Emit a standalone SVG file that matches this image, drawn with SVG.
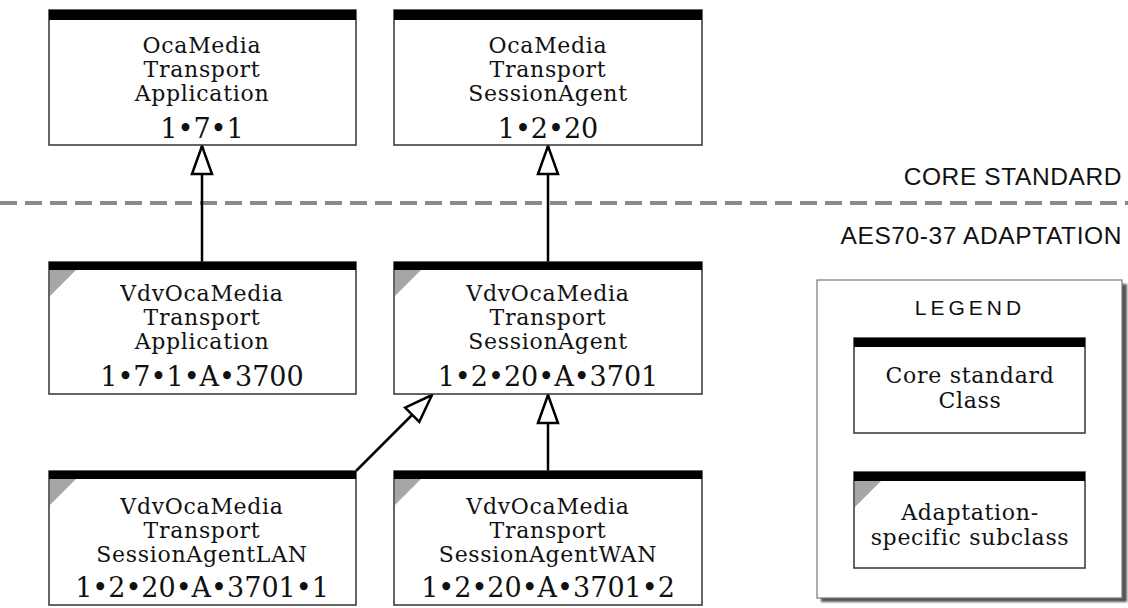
<svg xmlns="http://www.w3.org/2000/svg" width="1128" height="608" viewBox="0 0 1128 608">
  <style>
    .box { fill: #ffffff; stroke: #333333; stroke-width: 1.5; }
    .bar { fill: #000000; }
    .corner { fill: #a6a6a6; }
    .name { font-family: "DejaVu Serif", "Liberation Serif", serif; font-size: 22px; letter-spacing: 0.7px; fill: #111111; text-anchor: middle; }
    .oid { font-family: "DejaVu Serif", "Liberation Serif", serif; font-size: 27px; fill: #111111; text-anchor: middle; }
    .zone { font-family: "Liberation Sans", Arial, sans-serif; font-size: 24.5px; letter-spacing: 0.6px; fill: #111111; text-anchor: end; }
    .legend-title { font-family: "Liberation Sans", Arial, sans-serif; font-size: 21px; letter-spacing: 4px; fill: #111111; text-anchor: middle; }
    .edge { stroke: #000000; stroke-width: 2.5; fill: none; marker-end: url(#inherit); }
  </style>
  <defs>
    <marker id="inherit" markerUnits="userSpaceOnUse" viewBox="-30 -12 32 24" markerWidth="32" markerHeight="24" refX="0" refY="0" orient="auto">
      <path d="M -28 -10 L 0 0 L -28 10 Z" fill="#ffffff" stroke="#000000" stroke-width="2.5" stroke-linejoin="miter"/>
    </marker>
    <filter id="shadow" x="-5%" y="-5%" width="115%" height="115%">
      <feGaussianBlur stdDeviation="1.2"/>
    </filter>
  </defs>

  <rect width="1128" height="608" fill="#ffffff"/>

  <!-- boundary between core standard and adaptation -->
  <line x1="0" y1="203" x2="1128" y2="203" stroke="#8a8a8a" stroke-width="4" stroke-dasharray="17 8"/>
  <text class="zone" x="1122" y="185">CORE STANDARD</text>
  <text class="zone" x="1122" y="244">AES70-37 ADAPTATION</text>

  <!-- inheritance connectors -->
  <g id="connectors">
    <line class="edge" x1="202" y1="262" x2="202" y2="146"/>
    <line class="edge" x1="548" y1="262" x2="548" y2="146"/>
    <line class="edge" x1="548" y1="471" x2="548" y2="395"/>
    <line class="edge" x1="356" y1="471" x2="432" y2="395"/>
  </g>

  <!-- core classes -->
  <g id="oca-media-transport-application">
    <rect class="box" x="49" y="10" width="307" height="135"/>
    <rect class="bar" x="49" y="10" width="307" height="10"/>
    <text class="name" x="202" y="53">OcaMedia</text>
    <text class="name" x="202" y="77">Transport</text>
    <text class="name" x="202" y="101">Application</text>
    <text class="oid" x="202" y="138">1•7•1</text>
  </g>

  <g id="oca-media-transport-session-agent">
    <rect class="box" x="394" y="10" width="308" height="135"/>
    <rect class="bar" x="394" y="10" width="308" height="10"/>
    <text class="name" x="548" y="53">OcaMedia</text>
    <text class="name" x="548" y="77">Transport</text>
    <text class="name" x="548" y="101">SessionAgent</text>
    <text class="oid" x="548" y="138">1•2•20</text>
  </g>

  <!-- adaptation subclasses -->
  <g id="vdv-oca-media-transport-application">
    <rect class="box" x="49" y="262" width="307" height="132"/>
    <rect class="bar" x="49" y="262" width="307" height="8"/>
    <path class="corner" d="M 50 270 L 76 270 L 50 296 Z"/>
    <text class="name" x="202" y="301">VdvOcaMedia</text>
    <text class="name" x="202" y="325">Transport</text>
    <text class="name" x="202" y="349">Application</text>
    <text class="oid" x="202" y="386">1•7•1•A•3700</text>
  </g>

  <g id="vdv-oca-media-transport-session-agent">
    <rect class="box" x="394" y="262" width="308" height="132"/>
    <rect class="bar" x="394" y="262" width="308" height="8"/>
    <path class="corner" d="M 395 270 L 421 270 L 395 296 Z"/>
    <text class="name" x="548" y="301">VdvOcaMedia</text>
    <text class="name" x="548" y="325">Transport</text>
    <text class="name" x="548" y="349">SessionAgent</text>
    <text class="oid" x="548" y="386">1•2•20•A•3701</text>
  </g>

  <g id="vdv-oca-media-transport-session-agent-lan">
    <rect class="box" x="49" y="471" width="307" height="134"/>
    <rect class="bar" x="49" y="471" width="307" height="8"/>
    <path class="corner" d="M 50 479 L 76 479 L 50 505 Z"/>
    <text class="name" x="202" y="514">VdvOcaMedia</text>
    <text class="name" x="202" y="538">Transport</text>
    <text class="name" x="202" y="562">SessionAgentLAN</text>
    <text class="oid" x="202" y="597">1•2•20•A•3701•1</text>
  </g>

  <g id="vdv-oca-media-transport-session-agent-wan">
    <rect class="box" x="394" y="471" width="308" height="134"/>
    <rect class="bar" x="394" y="471" width="308" height="8"/>
    <path class="corner" d="M 395 479 L 421 479 L 395 505 Z"/>
    <text class="name" x="548" y="514">VdvOcaMedia</text>
    <text class="name" x="548" y="538">Transport</text>
    <text class="name" x="548" y="562">SessionAgentWAN</text>
    <text class="oid" x="548" y="597">1•2•20•A•3701•2</text>
  </g>

  <!-- legend -->
  <g id="legend">
    <rect x="821" y="284" width="306" height="318" fill="#555555" filter="url(#shadow)"/>
    <rect x="817" y="280" width="305" height="318" fill="#ffffff" stroke="#777777" stroke-width="1.2"/>
    <text class="legend-title" x="970" y="315">LEGEND</text>

    <g id="legend-core">
      <rect class="box" x="854" y="338" width="231" height="95"/>
      <rect class="bar" x="854" y="338" width="231" height="9"/>
      <text class="name" x="970" y="383">Core standard</text>
      <text class="name" x="970" y="408">Class</text>
    </g>

    <g id="legend-adaptation">
      <rect class="box" x="854" y="472" width="231" height="96"/>
      <rect class="bar" x="854" y="472" width="231" height="9"/>
      <path class="corner" d="M 855 481 L 881 481 L 855 507 Z"/>
      <text class="name" x="970" y="520">Adaptation-</text>
      <text class="name" x="970" y="545">specific subclass</text>
    </g>
  </g>
</svg>
